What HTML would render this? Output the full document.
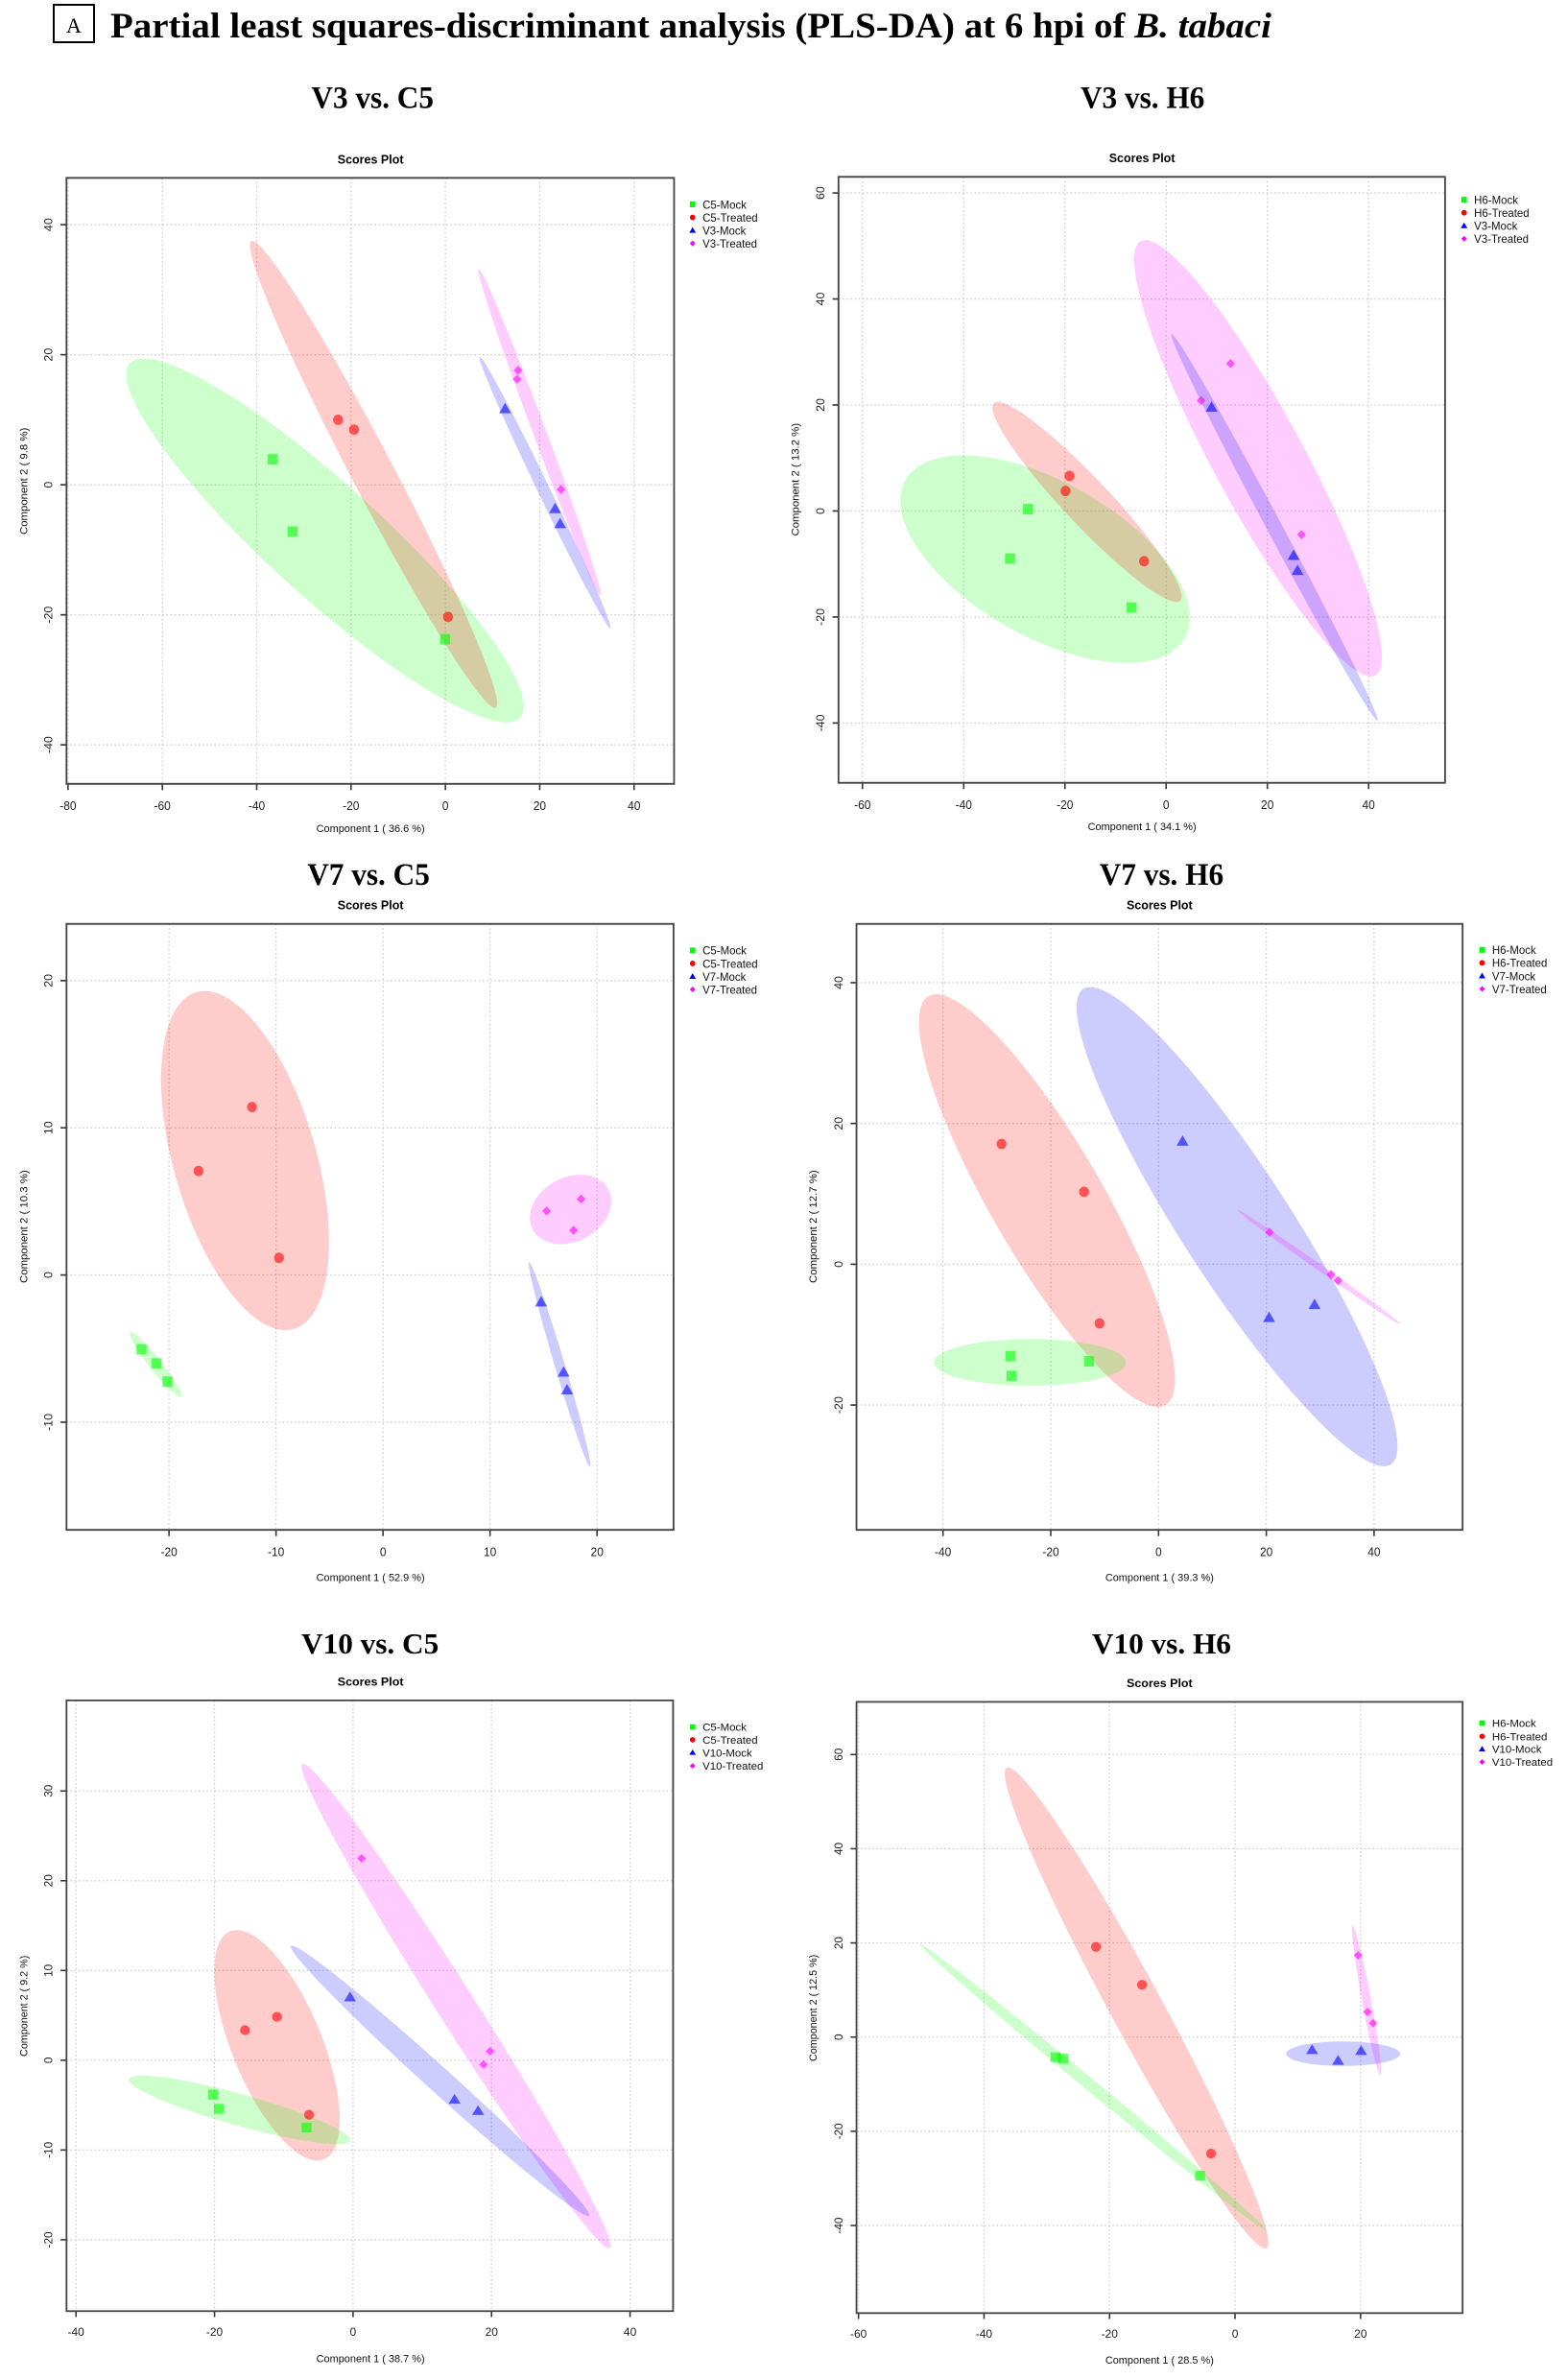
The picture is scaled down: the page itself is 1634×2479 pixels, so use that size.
<!DOCTYPE html>
<html><head><meta charset="utf-8"><style>
html,body{margin:0;padding:0;background:#fff;}
svg{display:block;}
</style></head><body>
<svg id="s" xmlns="http://www.w3.org/2000/svg" width="1634" height="2479" viewBox="0 0 1634 2479">
<rect width="1634" height="2479" fill="#fff"/>
<rect x="56" y="5" width="42" height="39" fill="none" stroke="#000" stroke-width="2"/>
<text x="77" y="34" font-family="Liberation Serif, serif" font-size="22" text-anchor="middle">A</text>
<text x="115" y="39" font-family="Liberation Serif, serif" font-size="37" font-weight="bold" textLength="1210" lengthAdjust="spacingAndGlyphs">Partial least squares-discriminant analysis (PLS-DA) at 6 hpi of <tspan font-style="italic">B. tabaci</tspan></text>
<g id="panels"></g>
</svg>
<script>
var SX=1/1.919;
var P=[
{ox:0,oy:0,ys:1.845,title:"V3 vs. C5",tx:745,ty:208,sx:741,sy:315,fr:[133,342,1348,1507],
 xt:{v0:-80,p0:136,v1:40,p1:1268,vals:[-80,-60,-40,-20,0,20,40]},
 yt:{v0:40,p0:432,v1:-40,p1:1432,vals:[40,20,0,-20,-40]},
 xl:"Component 1 ( 36.6 %)",xlx:741,xly:1600,yl:"Component 2 ( 9.8 %)",ylx:47,yly:925,
 leg:{x:1385,y:[393,418,443,468]},names:["C5-Mock","C5-Treated","V3-Mock","V3-Treated"],
 ell:[[0,650,1039,41,518,110],[1,747,912,61.4,511,42],[2,1090,947,63.4,292,12],[3,1079,831,68.8,337,13]],
 pts:[[[545,883],[585,1022],[890,1229]],[[676,807],[708,826],[896,1186]],[[1010,786],[1110,978],[1120,1007]],[[1036,712],[1034,729],[1122,941]]]},
{ox:817,oy:0,ys:1.845,title:"V3 vs. H6",tx:717,ty:208,sx:716,sy:312,fr:[109,340,1322,1505],
 xt:{v0:-60,p0:157,v1:40,p1:1169,vals:[-60,-40,-20,0,20,40]},
 yt:{v0:60,p0:371,v1:-40,p1:1390,vals:[60,40,20,0,-20,-40]},
 xl:"Component 1 ( 34.1 %)",xlx:716,xly:1596,yl:"Component 2 ( 13.2 %)",ylx:22,yly:922,
 leg:{x:1360,y:[384,409,434,459]},names:["H6-Mock","H6-Treated","V3-Mock","V3-Treated"],
 ell:[[0,522,1075,28,318,150],[1,606,965,45.5,266,45],[3,948,881,60.6,479,90],[2,981,1014,61,425,15]],
 pts:[[[488,979],[452,1074],[695,1168]],[[571,915],[563,944],[720,1079]],[[855,783],[1019,1068],[1027,1097]],[[834,770],[893,699],[1035,1028]]]},
{ox:0,oy:850,ys:1.845,title:"V7 vs. C5",tx:737,ty:133,sx:741,sy:180,fr:[133,208,1347,1373],
 xt:{v0:-20,p0:338,v1:20,p1:1194,vals:[-20,-10,0,10,20]},
 yt:{v0:20,p0:317,v1:-10,p1:1166,vals:[20,10,0,-10]},
 xl:"Component 1 ( 52.9 %)",xlx:741,xly:1471,yl:"Component 2 ( 10.3 %)",ylx:47,yly:790,
 leg:{x:1385,y:[259,284,309,334]},names:["C5-Mock","C5-Treated","V7-Mock","V7-Treated"],
 ell:[[1,490,663,73,338,142],[0,311,1055,50.6,80,12],[3,1141,757,-25,85,62],[2,1119,1055,72.8,206,10]],
 pts:[[[283,1026],[313,1053],[335,1088]],[[504,560],[397,683],[558,850]],[[1082,935],[1127,1070],[1134,1104]],[[1093,760],[1162,737],[1147,797]]]},
{ox:817,oy:850,ys:1.845,title:"V7 vs. H6",tx:755,ty:133,sx:751,sy:180,fr:[145,208,1357,1373],
 xt:{v0:-40,p0:318,v1:40,p1:1180,vals:[-40,-20,0,20,40]},
 yt:{v0:40,p0:321,v1:-20,p1:1133,vals:[40,20,0,-20]},
 xl:"Component 1 ( 39.3 %)",xlx:751,xly:1471,yl:"Component 2 ( 12.7 %)",ylx:57,yly:790,
 leg:{x:1396,y:[258,283,308,333]},names:["H6-Mock","H6-Treated","V7-Mock","V7-Treated"],
 ell:[[1,526,740,58.8,459,111],[2,906,790,56,551,108],[0,492,1051,0,192,45],[3,1070,868,34,196,6]],
 pts:[[[453,1039],[455,1077],[610,1049]],[[435,631],[600,723],[631,976]],[[797,626],[970,965],[1061,940]],[[971,801],[1094,882],[1108,894]]]},
{ox:0,oy:1677,ys:1.95,title:"V10 vs. C5",tx:740,ty:90,sx:741,sy:155,fr:[133,185,1346,1426],
 xt:{v0:-40,p0:152,v1:40,p1:1260,vals:[-40,-20,0,20,40]},
 yt:{v0:30,p0:369,v1:-20,p1:1281,vals:[30,20,10,0,-10,-20]},
 xl:"Component 1 ( 38.7 %)",xlx:741,xly:1530,yl:"Component 2 ( 9.2 %)",ylx:47,yly:806,
 leg:{x:1385,y:[239,265,291,318]},names:["C5-Mock","C5-Treated","V10-Mock","V10-Treated"],
 ell:[[3,912,806,58,580,38],[2,880,958,42.6,405,25],[1,554,886,68,250,90],[0,479,1017,15.8,230,32]],
 pts:[[[426,986],[438,1015],[613,1053]],[[554,828],[490,855],[618,1027]],[[700,788],[909,996],[956,1019]],[[723,506],[980,898],[967,925]]]},
{ox:817,oy:1677,ys:1.95,title:"V10 vs. H6",tx:755,ty:90,sx:751,sy:158,fr:[145,188,1357,1430],
 xt:{v0:-60,p0:149,v1:20,p1:1153,vals:[-60,-40,-20,0,20]},
 yt:{v0:60,p0:295,v1:-40,p1:1252,vals:[60,40,20,0,-20,-40]},
 xl:"Component 1 ( 28.5 %)",xlx:751,xly:1533,yl:"Component 2 ( 12.5 %)",ylx:57,yly:810,
 leg:{x:1396,y:[231,258,284,310]},names:["H6-Mock","H6-Treated","V10-Mock","V10-Treated"],
 ell:[[1,705,810,62,553,52],[0,618,971,40,452,12],[2,1118,903,0,114,25],[3,1165,795,79.6,155,9]],
 pts:[[[543,910],[558,913],[832,1151]],[[624,686],[716,763],[854,1106]],[[1056,895],[1108,917],[1154,897]],[[1148,703],[1167,818],[1178,841]]]}
];
var COL=["#00ff00","#ff0000","#0000ff","#ff00ff"];
function mk(t,x,y,sz,c,op){
 if(t==0) return '<rect x="'+(x-sz)+'" y="'+(y-sz)+'" width="'+2*sz+'" height="'+2*sz+'" fill="'+c+'" fill-opacity="'+op+'"/>';
 if(t==1) return '<circle cx="'+x+'" cy="'+y+'" r="'+sz+'" fill="'+c+'" fill-opacity="'+op+'"/>';
 if(t==2) return '<polygon points="'+x+','+(y-sz*1.15)+' '+(x+sz*1.2)+','+(y+sz*0.85)+' '+(x-sz*1.2)+','+(y+sz*0.85)+'" fill="'+c+'" fill-opacity="'+op+'"/>';
 return '<polygon points="'+x+','+(y-sz*0.8)+' '+(x+sz*0.8)+','+y+' '+x+','+(y+sz*0.8)+' '+(x-sz*0.8)+','+y+'" fill="'+c+'" fill-opacity="'+op+'"/>';
}
var out="";
var F='font-family="Liberation Sans, Arial, sans-serif"';
P.forEach(function(p){
 var g='<g transform="translate('+p.ox+','+p.oy+') scale('+SX+','+(1/p.ys)+')">';
 var f=p.fr;
 g+='<text x="'+p.tx+'" y="'+p.ty+'" font-family="Liberation Serif, serif" font-weight="bold" font-size="60" text-anchor="middle">'+p.title+'</text>';
 g+='<text x="'+p.sx+'" y="'+p.sy+'" '+F+' font-weight="bold" font-size="24" text-anchor="middle">Scores Plot</text>';
 p.xt.vals.forEach(function(v){var x=p.xt.p0+(v-p.xt.v0)*(p.xt.p1-p.xt.p0)/(p.xt.v1-p.xt.v0);
  g+='<line x1="'+x+'" y1="'+f[1]+'" x2="'+x+'" y2="'+f[3]+'" stroke="#cfcfcf" stroke-width="2.5" stroke-dasharray="3 5"/>';
  g+='<line x1="'+x+'" y1="'+f[3]+'" x2="'+x+'" y2="'+(f[3]+12)+'" stroke="#333" stroke-width="3"/>';
  g+='<text x="'+x+'" y="'+(f[3]+50)+'" '+F+' font-size="23" fill="#222" text-anchor="middle">'+v+'</text>';});
 p.yt.vals.forEach(function(v){var y=p.yt.p0+(v-p.yt.v0)*(p.yt.p1-p.yt.p0)/(p.yt.v1-p.yt.v0);
  g+='<line x1="'+f[0]+'" y1="'+y+'" x2="'+f[2]+'" y2="'+y+'" stroke="#cfcfcf" stroke-width="2.5" stroke-dasharray="3 5"/>';
  g+='<line x1="'+(f[0]-12)+'" y1="'+y+'" x2="'+f[0]+'" y2="'+y+'" stroke="#333" stroke-width="3"/>';
  var lx=f[0]-28;
  g+='<text x="'+lx+'" y="'+y+'" '+F+' font-size="23" fill="#222" text-anchor="middle" transform="rotate(-90 '+lx+' '+y+')">'+v+'</text>';});
 p.ell.forEach(function(e){
  g+='<ellipse cx="'+e[1]+'" cy="'+e[2]+'" rx="'+e[4]+'" ry="'+e[5]+'" transform="rotate('+e[3]+' '+e[1]+' '+e[2]+')" fill="'+COL[e[0]]+'" fill-opacity="0.2"/>';});
 p.pts.forEach(function(arr,i){arr.forEach(function(q){g+=mk(i,q[0],q[1],i==3?11:10,COL[i],0.6);});});
 g+='<rect x="'+f[0]+'" y="'+f[1]+'" width="'+(f[2]-f[0])+'" height="'+(f[3]-f[1])+'" fill="none" stroke="#444" stroke-width="3.5"/>';
 p.names.forEach(function(n,i){var y=p.leg.y[i];
  g+=mk(i,p.leg.x,y,i==3?7:5.5,COL[i],1);
  g+='<text x="'+(p.leg.x+20)+'" y="'+(y+8)+'" '+F+' font-size="22" fill="#111">'+n+'</text>';});
 g+='<text x="'+p.xlx+'" y="'+p.xly+'" '+F+' font-size="21" fill="#111" text-anchor="middle">'+p.xl+'</text>';
 g+='<text x="'+(p.ylx+8)+'" y="'+p.yly+'" '+F+' font-size="21" fill="#111" text-anchor="middle" transform="rotate(-90 '+(p.ylx+8)+' '+p.yly+')">'+p.yl+'</text>';
 g+='</g>';
 out+=g;
});
document.getElementById("panels").innerHTML=out;
</script>
</body></html>
